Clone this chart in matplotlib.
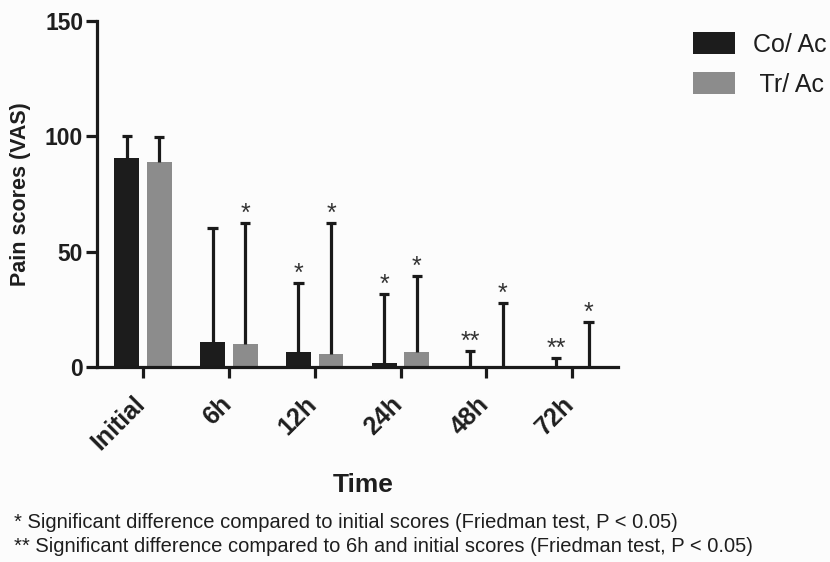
import numpy as np
import matplotlib.pyplot as plt
from matplotlib.patches import Patch

# data
times = ['Initial', '6h', '12h', '24h', '48h', '72h']
co_mean = [90.5, 10.8, 6.5, 1.9, 0.0, 0.0]
co_upper = [100.0, 60.3, 36.4, 31.6, 7.0, 3.9]
tr_mean = [88.8, 9.9, 5.6, 6.5, 0.5, 0.0]
tr_upper = [99.5, 62.4, 62.4, 39.4, 27.7, 19.6]
co_marks = ['', '', '*', '*', '**', '**']
tr_marks = ['', '*', '*', '*', '*', '*']

plt.rcParams['font.family'] = ['Liberation Sans', 'DejaVu Sans']
txt = '#1e1e1e'
bg = '#fcfcfc'

fig = plt.figure(figsize=(8.3, 5.62), dpi=100, facecolor=bg)
ax = fig.add_axes([0.1169, 0.347, 0.628, 0.6156], facecolor=bg)

x = np.arange(len(times))
off = 0.19
w = 0.29
co_col = '#1c1c1c'
tr_col = '#8c8c8c'
lw = 2.3
cap = 0.06

ax.bar(x - off, co_mean, w, color=co_col, zorder=2)
ax.bar(x + off, tr_mean, w, color=tr_col, zorder=2)

# upper-only error bars: a stem from the bar top and a cap
for xs, lo, hi in [(x - off, co_mean, co_upper), (x + off, tr_mean, tr_upper)]:
    ax.vlines(xs, lo, hi, color='#1a1a1a', lw=lw, zorder=3)
    ax.hlines(hi, xs - cap, xs + cap, color='#1a1a1a', lw=lw, zorder=3)

for i in range(len(times)):
    if co_marks[i]:
        ax.text(x[i] - off, co_upper[i] - 1.4, co_marks[i], ha='center', va='bottom',
                fontsize=18, color='#333333')
    if tr_marks[i]:
        ax.text(x[i] + off, tr_upper[i] - 1.4, tr_marks[i], ha='center', va='bottom',
                fontsize=18, color='#333333')

ax.set_xlim(-0.535, 5.535)
ax.set_ylim(0, 150)
ax.set_yticks([0, 50, 100, 150])
ax.set_xticks(x)
ax.set_xticklabels([])
# slanted category labels, set a bit left of each tick like the original
for i, t in enumerate(times):
    ax.annotate(t, xy=(x[i], 0), xycoords=('data', 'axes fraction'),
                xytext=(-10, -25), textcoords='offset pixels', rotation=45,
                ha='right', va='top', rotation_mode='anchor',
                fontsize=18, fontweight='bold', color=txt, annotation_clip=False)
for lab in ax.get_yticklabels():
    lab.set_fontsize(16.5)
    lab.set_fontweight('bold')
    lab.set_color(txt)

for s in ['top', 'right']:
    ax.spines[s].set_visible(False)
for s in ['left', 'bottom']:
    ax.spines[s].set_linewidth(lw)
    ax.spines[s].set_color('#1a1a1a')
ax.tick_params(axis='y', width=lw, length=8, color='#1a1a1a', pad=2)
ax.tick_params(axis='x', width=lw, length=8, color='#1a1a1a', pad=9)

ax.set_ylabel('Pain scores (VAS)', fontsize=15.5, fontweight='bold', color=txt, labelpad=10)
fig.text(363 / 830, 1 - 485 / 562, 'Time', ha='center', va='center',
         fontsize=19, fontweight='bold', color=txt)

handles = [Patch(facecolor=co_col), Patch(facecolor=tr_col)]
fig.legend(handles, ['Co/ Ac', ' Tr/ Ac'], loc='upper left',
           bbox_to_anchor=(693 / 830, 1 - 32 / 562), frameon=False, fontsize=18,
           handlelength=1.68, handleheight=1.0, handletextpad=0.72,
           labelspacing=0.6, labelcolor=txt, borderpad=0, borderaxespad=0)

fig.text(14 / 830, 1 - 522 / 562,
         '* Significant difference compared to initial scores (Friedman test, P < 0.05)',
         ha='left', va='center', fontsize=14.5, color=txt)
fig.text(14 / 830, 1 - 546 / 562,
         '** Significant difference compared to 6h and initial scores (Friedman test, P < 0.05)',
         ha='left', va='center', fontsize=14.5, color=txt)

fig.savefig('out.png', dpi=100, facecolor=bg)
